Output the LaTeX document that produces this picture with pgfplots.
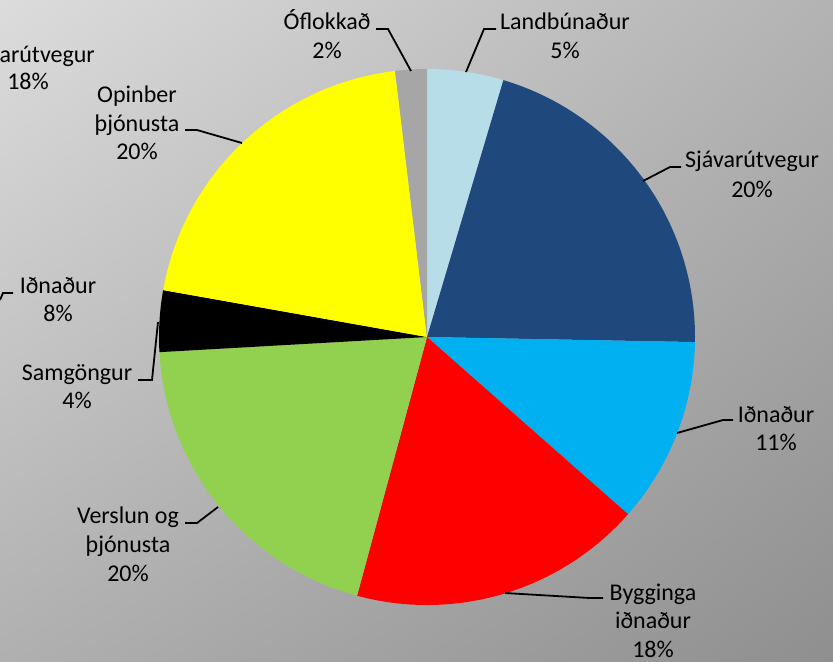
\documentclass[border=0pt]{standalone}
\usepackage{fontspec}
\setmainfont{Carlito}
\usepackage{pgfplots}
\usepackage{pgfplotstable}
\usetikzlibrary{shadings}
\pgfplotsset{compat=1.18}
\definecolor{cLand}{HTML}{B7DEE8}
\definecolor{cSja}{HTML}{1F497D}
\definecolor{cIdn}{HTML}{00B0F0}
\definecolor{cByg}{HTML}{FF0000}
\definecolor{cVer}{HTML}{92D050}
\definecolor{cSam}{HTML}{000000}
\definecolor{cOpi}{HTML}{FFFF00}
\definecolor{cOfl}{HTML}{A6A6A6}
\definecolor{bgUL}{HTML}{DCDCDC}
\definecolor{bgUR}{HTML}{B3B3B3}
\definecolor{bgLL}{HTML}{B0B0B0}
\definecolor{bgLR}{HTML}{8F8F8F}
\pgfplotstableread{
v c
4.6 cLand
20.7 cSja
11.2 cIdn
17.7 cByg
19.9 cVer
3.7 cSam
20.3 cOpi
1.9 cOfl
}\pietable
\newcommand\lab[3]{\node[anchor=base, inner sep=0pt, font=\fontsize{12}{14.6}\selectfont] at (axis cs:#1,#2) {#3};}
\begin{document}
\begin{tikzpicture}
\begin{axis}[name=ax, x=0.5pt, y=0.5pt, xmin=0, xmax=833, ymin=0, ymax=661,
  y dir=reverse, hide axis, clip=true]
\shade[upper left=bgUL, upper right=bgUR, lower left=bgLL, lower right=bgLR]
  (axis cs:0,0) rectangle (axis cs:833,661);
\gdef\acc{90}
\foreach \i in {0,...,7}{
  \pgfplotstablegetelem{\i}{v}\of\pietable \let\val\pgfplotsretval
  \pgfplotstablegetelem{\i}{c}\of\pietable \let\col\pgfplotsretval
  \pgfmathsetmacro\aend{\acc-3.6*\val}
  \pgfmathsetmacro\sx{427+268*cos(\acc)}
  \pgfmathsetmacro\sy{337-268*sin(\acc)}
  \edef\temp{\noexpand\fill[\col] (axis cs:427,337) -- (axis cs:\sx,\sy) arc[start angle=\acc, end angle=\aend, radius=134pt] -- cycle;}
  \temp
  \global\let\acc\aend
}
% leader lines
\draw[line width=0.9pt] (axis cs:376,29) -- (axis cs:388,29) -- (axis cs:411,71);
\draw[line width=0.9pt] (axis cs:466,72) -- (axis cs:484,29) -- (axis cs:496,29);
\draw[line width=0.9pt] (axis cs:643,181) -- (axis cs:670,167) -- (axis cs:681,167);
\draw[line width=0.9pt] (axis cs:677,433) -- (axis cs:723,420) -- (axis cs:733,420);
\draw[line width=0.9pt] (axis cs:505,593) -- (axis cs:590,598) -- (axis cs:603,598);
\draw[line width=0.9pt] (axis cs:158,322) -- (axis cs:152,380) -- (axis cs:138,380);
\draw[line width=0.9pt] (axis cs:185,130) -- (axis cs:197,130) -- (axis cs:242,143);
\draw[line width=0.9pt] (axis cs:185,523) -- (axis cs:197,523) -- (axis cs:218,507);
\draw[line width=0.9pt] (axis cs:0,300) -- (axis cs:3,293) -- (axis cs:13,293);
% labels
\lab{327}{29}{Óflokkað}\lab{327}{58}{2\%}
\lab{565}{29}{Landbúnaður}\lab{565}{58}{5\%}
\lab{752}{167}{Sjávarútvegur}\lab{752}{197}{20\%}
\lab{776}{422}{Iðnaður}\lab{776}{450}{11\%}
\lab{653}{600}{Bygginga}\lab{653}{628}{iðnaður}\lab{653}{657}{18\%}
\lab{128}{523}{Verslun og}\lab{128}{552}{þjónusta}\lab{128}{581}{20\%}
\lab{77}{380}{Samgöngur}\lab{77}{408}{4\%}
\lab{137}{102}{Opinber}\lab{137}{131}{þjónusta}\lab{137}{159}{20\%}
\lab{58}{293}{Iðnaður}\lab{58}{321}{8\%}
\lab{28}{62}{Sjávarútvegur}\lab{28}{89}{18\%}
\end{axis}
\pgfresetboundingbox
\path (ax.south west) rectangle (ax.north east);
\end{tikzpicture}
\end{document}
